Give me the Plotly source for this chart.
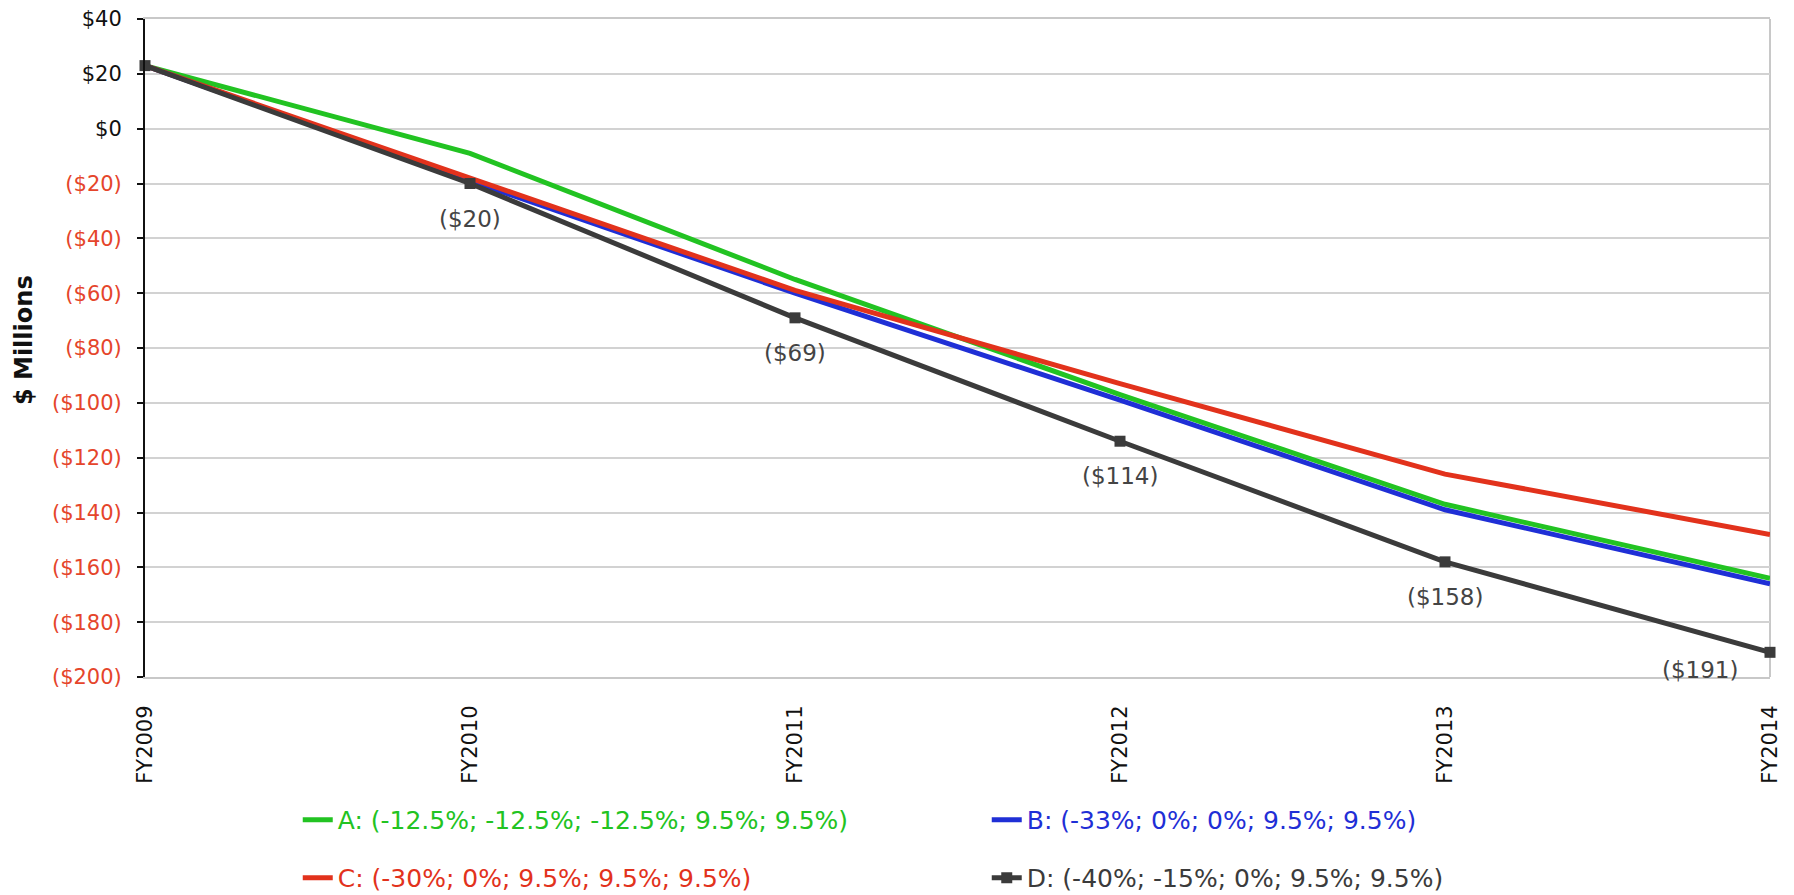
import plotly.graph_objects as go

years = ["FY2009", "FY2010", "FY2011", "FY2012", "FY2013", "FY2014"]
series_a = [23, -9, -55, -97, -137, -164]
series_b = [23, -19, -60, -99, -139, -166]
series_c = [23, -18, -59, -93, -126, -148]
series_d = [23, -20, -69, -114, -158, -191]

names = {
    "A": "A: (-12.5%; -12.5%; -12.5%; 9.5%; 9.5%)",
    "B": "B: (-33%; 0%; 0%; 9.5%; 9.5%)",
    "C": "C: (-30%; 0%; 9.5%; 9.5%; 9.5%)",
    "D": "D: (-40%; -15%; 0%; 9.5%; 9.5%)",
}
colors = {"A": "#22c322", "B": "#1f2fd6", "C": "#e2321c", "D": "#3b3b3b"}
NEG = "#e5452b"
FONT = "DejaVu Sans"

y_ticks = list(range(-200, 41, 20))
y_ticktext = [f"${v}" if v >= 0 else f"<span style='color:{NEG}'>(${-v})</span>" for v in y_ticks]

fig = go.Figure()
for key, vals, leg in [("A", series_a, "legend"), ("B", series_b, "legend"),
                       ("C", series_c, "legend2"), ("D", series_d, "legend2")]:
    fig.add_trace(go.Scatter(
        x=years, y=vals,
        mode="lines+markers" if key == "D" else "lines",
        name=f"<span style='color:{colors[key]}'>{names[key]}</span>",
        line=dict(color=colors[key], width=5),
        marker=dict(symbol="square", size=11, color=colors[key]),
        legend=leg,
        cliponaxis=False,
    ))

# data labels for D
for i, (x, v) in enumerate(zip(years, series_d)):
    if i == 0:
        continue
    last = i == len(years) - 1
    fig.add_annotation(
        x=x, y=v, text=f"(${-v})", showarrow=False,
        yshift=-18 if last else -35, xshift=-70 if last else 0,
        font=dict(family=FONT, size=23, color="#444444"),
    )

fig.add_annotation(
    xref="paper", yref="paper", x=-0.0745, y=0.512, xanchor="center", yanchor="middle",
    text="<b>$ Millions</b>",
    textangle=-90, showarrow=False, font=dict(family=FONT, size=24, color="#111111"),
)

fig.add_shape(type="line", xref="paper", yref="paper", x0=1, x1=1, y0=0, y1=1,
              line=dict(color="#c8c8c8", width=2), layer="below")

legend_common = dict(orientation="h", xanchor="left", yanchor="middle",
                     yref="container",
                     entrywidth=644, entrywidthmode="pixels",
                     font=dict(family=FONT, size=25), itemwidth=30,
                     bgcolor="rgba(0,0,0,0)")

fig.update_layout(
    width=1794, height=895,
    margin=dict(l=145, r=24, t=19, b=218),
    paper_bgcolor="white", plot_bgcolor="white",
    font=dict(family=FONT, color="#111111"),
    xaxis=dict(
        type="category", range=[0, 5], showgrid=False, tickangle=-90,
        tickfont=dict(family=FONT, size=21, color="#111111"),
        showline=True, linecolor="#c8c8c8", linewidth=2, mirror=True,
        ticks="", ticklabelstandoff=18, automargin=False,
    ),
    yaxis=dict(
        range=[-200, 40], tickvals=y_ticks, ticktext=y_ticktext,
        tickfont=dict(family=FONT, size=21, color="#111111"),
        showgrid=True, gridcolor="#d2d2d2", gridwidth=2, zeroline=False,
        showline=True, linecolor="#111111", linewidth=2,
        ticks="outside", ticklen=6, tickcolor="#111111", tickwidth=2,
        ticklabelstandoff=11, automargin=False,
    ),
    legend=dict(x=0.094, y=0.0838, **legend_common),
    legend2=dict(x=0.094, y=0.019, **legend_common),
    showlegend=True,
)

fig.write_html("out.html", config={"displayModeBar": False},
               post_script="document.body.style.margin='0';")
